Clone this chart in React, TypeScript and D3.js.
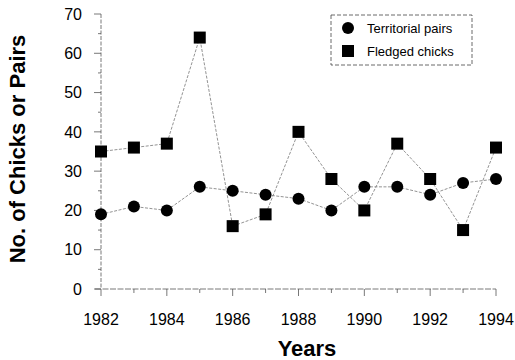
import * as d3 from "d3";

const years = [1982, 1983, 1984, 1985, 1986, 1987, 1988, 1989, 1990, 1991, 1992, 1993, 1994];
const territorialPairs = [19, 21, 20, 26, 25, 24, 23, 20, 26, 26, 24, 27, 28];
const fledgedChicks = [35, 36, 37, 64, 16, 19, 40, 28, 20, 37, 28, 15, 36];
const yTicks = [0, 10, 20, 30, 40, 50, 60, 70];
const xTicks = [1982, 1984, 1986, 1988, 1990, 1992, 1994];

const W = 515;
const H = 360;

export default function App() {
  const x = d3.scaleLinear().domain([1982, 1994]).range([101, 496]);
  const y = d3.scaleLinear().domain([0, 70]).range([289, 14]);

  const line = d3
    .line<number>()
    .x((_, i) => x(years[i]))
    .y((d) => y(d));

  const font = "Arial, 'Liberation Sans', sans-serif";
  const axisColor = "#555";

  return (
    <svg
      width={W}
      height={H}
      style={{ position: "absolute", left: 0, top: 0, background: "#fff" }}
      fontFamily={font}
    >
      {/* axes */}
      <line x1={x(1982)} x2={x(1982)} y1={y(70)} y2={y(0)} stroke={axisColor} strokeWidth={0.8} strokeDasharray="4,1.5" />
      <line x1={x(1982) - 6} x2={x(1994)} y1={y(0)} y2={y(0)} stroke={axisColor} strokeWidth={0.8} strokeDasharray="6,1.5" />

      {yTicks.map((t) => (
        <g key={"y" + t}>
          <line x1={x(1982) - 7} x2={x(1982)} y1={y(t)} y2={y(t)} stroke={axisColor} strokeWidth={0.8} />
          {t < 70 && (
            <line x1={x(1982) - 3} x2={x(1982)} y1={y(t + 5)} y2={y(t + 5)} stroke={axisColor} strokeWidth={0.8} />
          )}
          <text x={82} y={y(t)} dy="0.36em" textAnchor="end" fontSize={16}>
            {t}
          </text>
        </g>
      ))}

      {years.map((yr) => (
        <line
          key={"xt" + yr}
          x1={x(yr)}
          x2={x(yr)}
          y1={y(0)}
          y2={y(0) + (yr % 2 === 0 ? 7 : 4)}
          stroke={axisColor}
          strokeWidth={0.8}
        />
      ))}
      {xTicks.map((t) => (
        <text key={"xl" + t} x={x(t)} y={325} textAnchor="middle" fontSize={16}>
          {t}
        </text>
      ))}

      {/* series lines */}
      <path d={line(fledgedChicks) ?? ""} fill="none" stroke="#777" strokeWidth={0.8} strokeDasharray="3,1.5" />
      <path d={line(territorialPairs) ?? ""} fill="none" stroke="#777" strokeWidth={0.8} strokeDasharray="3,1.5" />

      {/* markers */}
      {territorialPairs.map((v, i) => (
        <circle key={"c" + i} cx={x(years[i])} cy={y(v)} r={6} fill="#000" />
      ))}
      {fledgedChicks.map((v, i) => (
        <rect key={"s" + i} x={x(years[i]) - 6} y={y(v) - 6} width={12} height={12} fill="#000" />
      ))}

      {/* legend */}
      <rect x={331} y={15} width={141} height={50} fill="#fff" stroke="#444" strokeWidth={0.8} strokeDasharray="4,2" />
      <circle cx={348} cy={28} r={6} fill="#000" />
      <text x={367} y={28} dy="0.36em" fontSize={13}>
        Territorial pairs
      </text>
      <rect x={342} y={45} width={12} height={12} fill="#000" />
      <text x={367} y={51} dy="0.36em" fontSize={13}>
        Fledged chicks
      </text>

      {/* axis titles */}
      <text
        transform={`translate(25,${149}) rotate(-90)`}
        textAnchor="middle"
        fontSize={22}
        fontWeight="bold"
      >
        No. of Chicks or Pairs
      </text>
      <text x={307} y={356} textAnchor="middle" fontSize={22} fontWeight="bold">
        Years
      </text>
    </svg>
  );
}
